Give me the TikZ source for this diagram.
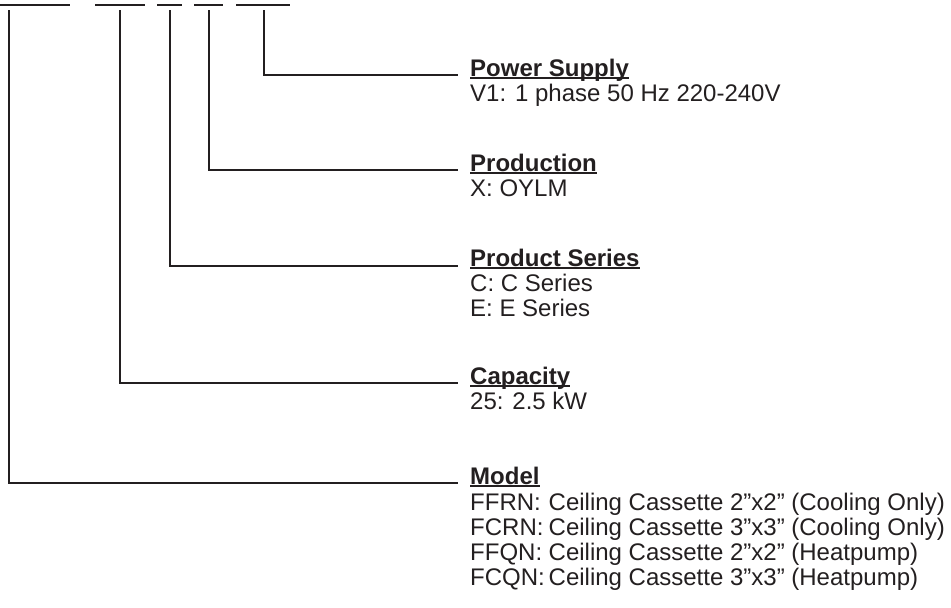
\documentclass[tikz,border=0pt]{standalone}
\usepackage{fontspec}
\setmainfont{Liberation Sans}
\newcommand\ulhead[1]{\sbox0{\bfseries #1}\rlap{\rule[-2.6pt]{\wd0}{1.5pt}}\usebox0}
\newcommand\code[1]{\makebox[78.5pt][l]{#1}}
\definecolor{ink}{HTML}{231F20}
\begin{document}
\begin{tikzpicture}[x=1pt,y=-1pt,
  conn/.style={draw=ink,line width=1.8pt},
  txt/.style={anchor=base west,inner sep=0pt,text=ink,font=\fontsize{24}{25}\selectfont}]
\useasboundingbox (0,0) rectangle (951,608);
% top code segments
\coordinate (s1a) at (-2,5); \coordinate (s1b) at (70,5);
\coordinate (s2a) at (95,5); \coordinate (s2b) at (145,5);
\coordinate (s3a) at (157,5); \coordinate (s3b) at (182,5);
\coordinate (s4a) at (194,5); \coordinate (s4b) at (223,5);
\coordinate (s5a) at (236,5); \coordinate (s5b) at (290,5);
\draw[conn] (s1a) -- (s1b);
\draw[conn] (s2a) -- (s2b);
\draw[conn] (s3a) -- (s3b);
\draw[conn] (s4a) -- (s4b);
\draw[conn] (s5a) -- (s5b);
% tap points
\coordinate (t1) at (9,10);
\coordinate (t2) at (120,10);
\coordinate (t3) at (170,10);
\coordinate (t4) at (209,10);
\coordinate (t5) at (264,10);
% line ends
\coordinate (ePS) at (458,75);
\coordinate (ePR) at (458,170);
\coordinate (eSE) at (458,266);
\coordinate (eCA) at (458,383);
\coordinate (eMO) at (458,483);
% texts
\node[txt] (hPS) at (470,76) {\ulhead{Power Supply}};
\node[txt] (dPS) at (470,101) {V1: 1 phase 50 Hz 220-240V};
\node[txt] (hPR) at (470,171) {\ulhead{Production}};
\node[txt] (dPR) at (470,196) {X: OYLM};
\node[txt] (hSE) at (470,266) {\ulhead{Product Series}};
\node[txt] (dSE1) at (470,291) {C: C Series};
\node[txt] (dSE2) at (470,316) {E: E Series};
\node[txt] (hCA) at (470,384) {\ulhead{Capacity}};
\node[txt] (dCA) at (470,409) {25: 2.5 kW};
\node[txt] (hMO) at (470,484) {\ulhead{Model}};
\node[txt] (dMO1) at (470,510) {\code{FFRN:}Ceiling Cassette 2”x2” (Cooling Only)};
\node[txt] (dMO2) at (470,535) {\code{FCRN:}Ceiling Cassette 3”x3” (Cooling Only)};
\node[txt] (dMO3) at (470,560) {\code{FFQN:}Ceiling Cassette 2”x2” (Heatpump)};
\node[txt] (dMO4) at (470,585) {\code{FCQN:}Ceiling Cassette 3”x3” (Heatpump)};
% connectors
\draw[conn] (t5) |- (ePS);
\draw[conn] (t4) |- (ePR);
\draw[conn] (t3) |- (eSE);
\draw[conn] (t2) |- (eCA);
\draw[conn] (t1) |- (eMO);
\end{tikzpicture}
\end{document}
